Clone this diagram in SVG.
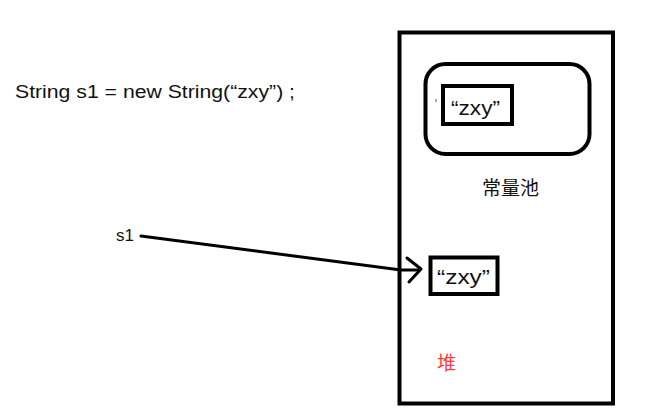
<svg xmlns="http://www.w3.org/2000/svg" width="650" height="415" viewBox="0 0 650 415">
<style>
.t{font-family:"Liberation Sans","Noto Sans CJK SC",sans-serif;fill:#111}
.box{fill:none;stroke:#000;stroke-width:4}
.ln{fill:none;stroke:#000;stroke-width:3;stroke-linecap:round;stroke-linejoin:round}
</style>
<rect width="650" height="415" fill="#fff"/>
<text class="t" x="15" y="98" font-size="18" textLength="280" lengthAdjust="spacingAndGlyphs">String s1 = new String(“zxy”) ;</text>
<g id="heap">
<rect class="box" x="399.5" y="32.5" width="213.5" height="371" stroke-width="5"/>
<text x="437" y="370" font-size="19" font-family="Noto Sans CJK SC,sans-serif" fill="#ff3b3b">堆</text>
</g>
<g id="pool">
<rect class="box" x="425.5" y="64" width="164" height="90" rx="20" stroke-width="5"/>
<text class="t" x="482" y="195" font-size="19" font-family="Noto Sans CJK SC,sans-serif">常量池</text>
</g>
<g id="poolStr">
<rect class="box" x="443" y="86" width="69" height="38"/>
<line x1="436" y1="99" x2="436" y2="102" stroke="#555" stroke-width="1"/>
<text class="t" x="451" y="115" font-size="20" textLength="49" lengthAdjust="spacingAndGlyphs">“zxy”</text>
</g>
<g id="heapStr">
<rect class="box" x="430.5" y="257.5" width="67" height="36.5"/>
<text class="t" x="437" y="284" font-size="20" textLength="53" lengthAdjust="spacingAndGlyphs">“zxy”</text>
</g>
<g id="s1">
<text class="t" x="116" y="241" font-size="17">s1</text>
</g>
<g id="connectors">
<polyline class="ln" points="141,236 401,270 419,270"/>
<polyline class="ln" points="407,258 421,269 409,282"/>
</g>
</svg>
